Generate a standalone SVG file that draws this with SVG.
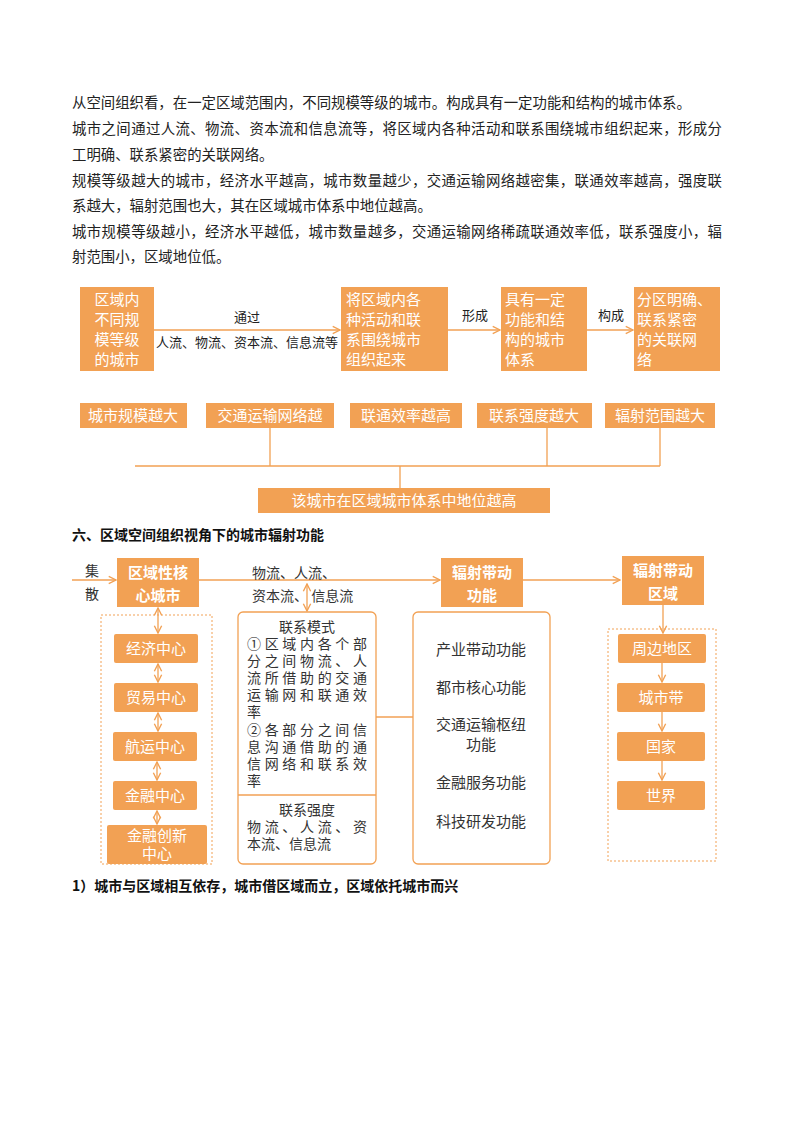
<svg xmlns="http://www.w3.org/2000/svg" width="800" height="1132" viewBox="0 0 800 1132">
<style>
text{font-family:"Noto Sans CJK SC","Noto Sans",sans-serif}
.p{font-size:14.4px;fill:#222}
.b{fill:#F2A154}
.w{fill:#fff;font-size:15px}
.wb{fill:#fff;font-size:15px;font-weight:bold}
.k{fill:#222;font-size:13px}
.k2{fill:#333;font-size:14px}
.m{fill:#333;font-size:15px}
.mm{fill:#333;font-size:14px}
.ln{stroke:#F2A154;stroke-width:1.3;fill:none}
.dash{stroke:#F2A154;stroke-width:1;stroke-dasharray:2,2;fill:none}
.hd{font-size:14px;font-weight:bold;fill:#111}
</style>
<defs>
<marker id="a" viewBox="0 0 10 10" refX="9" refY="5" markerWidth="7" markerHeight="7" orient="auto-start-reverse"><path d="M1,1 L9,5 L1,9" fill="none" stroke="#F2A154" stroke-width="1.5"/></marker>
</defs>
<rect width="800" height="1132" fill="#fff"/>
<g id="para">
<text class="p" x="72" y="108">从空间组织看，在一定区域范围内，不同规模等级的城市。构成具有一定功能和结构的城市体系。</text>
<text class="p" x="72" y="134" textLength="650">城市之间通过人流、物流、资本流和信息流等，将区域内各种活动和联系围绕城市组织起来，形成分</text>
<text class="p" x="72" y="160">工明确、联系紧密的关联网络。</text>
<text class="p" x="72" y="186" textLength="650">规模等级越大的城市，经济水平越高，城市数量越少，交通运输网络越密集，联通效率越高，强度联</text>
<text class="p" x="72" y="211">系越大，辐射范围也大，其在区域城市体系中地位越高。</text>
<text class="p" x="72" y="237" textLength="650">城市规模等级越小，经济水平越低，城市数量越多，交通运输网络稀疏联通效率低，联系强度小，辐</text>
<text class="p" x="72" y="262">射范围小，区域地位低。</text>
</g>
<g id="connectors">
<line class="ln" x1="154" y1="330" x2="340" y2="330" marker-end="url(#a)"/>
<line class="ln" x1="448" y1="330" x2="500" y2="330" marker-end="url(#a)"/>
<line class="ln" x1="587" y1="330" x2="633" y2="330" marker-end="url(#a)"/>
<path class="ln" d="M270,428V466M547,428V466M660,428V466M135,466H660M400,466V488"/>
<line class="ln" x1="72" y1="580" x2="116" y2="580" marker-end="url(#a)"/>
<line class="ln" x1="199" y1="580" x2="440" y2="580" marker-end="url(#a)"/>
<line class="ln" x1="523" y1="580" x2="620" y2="580" marker-end="url(#a)"/>
<line class="ln" x1="307" y1="584" x2="307" y2="611" marker-start="url(#a)" marker-end="url(#a)"/>
<line class="ln" x1="158" y1="608" x2="158" y2="633" marker-start="url(#a)" marker-end="url(#a)"/>
<line class="ln" x1="158" y1="664" x2="158" y2="682" marker-start="url(#a)" marker-end="url(#a)"/>
<line class="ln" x1="158" y1="713" x2="158" y2="731" marker-start="url(#a)" marker-end="url(#a)"/>
<line class="ln" x1="157" y1="762" x2="157" y2="780" marker-start="url(#a)" marker-end="url(#a)"/>
<line class="ln" x1="157" y1="811" x2="157" y2="824" marker-start="url(#a)" marker-end="url(#a)"/>
<line class="ln" x1="376" y1="717" x2="413" y2="717"/>
<line class="ln" x1="663" y1="605" x2="663" y2="633" marker-end="url(#a)"/>
<line class="ln" x1="662" y1="663" x2="662" y2="682" marker-end="url(#a)"/>
<line class="ln" x1="662" y1="712" x2="662" y2="731" marker-end="url(#a)"/>
<line class="ln" x1="662" y1="761" x2="662" y2="780" marker-end="url(#a)"/>
</g>
<g id="labels">
<text class="k" x="247" y="322" text-anchor="middle">通过</text>
<text class="k" x="247" y="347" text-anchor="middle" font-size="12">人流、物流、资本流、信息流等</text>
<text class="k" x="475" y="320" text-anchor="middle">形成</text>
<text class="k" x="611" y="320" text-anchor="middle">构成</text>
<text class="k2" x="92" y="576" text-anchor="middle">集</text>
<text class="k2" x="92" y="599" text-anchor="middle">散</text>
<text class="k2" x="252" y="578">物流、人流、</text>
<text class="k2" x="252" y="601">资本流、 信息流</text>
</g>
<g id="n1"><rect class="b" x="80" y="287" width="74" height="84"/>
<text class="w" x="117" y="305" text-anchor="middle">区域内</text><text class="w" x="117" y="325" text-anchor="middle">不同规</text><text class="w" x="117" y="345" text-anchor="middle">模等级</text><text class="w" x="117" y="365" text-anchor="middle">的城市</text></g>
<g id="n2"><rect class="b" x="341" y="287" width="107" height="84"/>
<text class="w" x="346" y="305">将区域内各</text><text class="w" x="346" y="325">种活动和联</text><text class="w" x="346" y="345">系围绕城市</text><text class="w" x="346" y="365">组织起来</text></g>
<g id="n3"><rect class="b" x="501" y="287" width="86" height="84"/>
<text class="w" x="505" y="305">具有一定</text><text class="w" x="505" y="325">功能和结</text><text class="w" x="505" y="345">构的城市</text><text class="w" x="505" y="365">体系</text></g>
<g id="n4"><rect class="b" x="634" y="287" width="86" height="84"/>
<text class="w" x="637" y="305">分区明确、</text><text class="w" x="637" y="325">联系紧密</text><text class="w" x="637" y="345">的关联网</text><text class="w" x="637" y="365">络</text></g>
<g id="r1"><rect class="b" x="80" y="403" width="107" height="25"/><text class="w" x="133" y="421" text-anchor="middle" font-size="16">城市规模越大</text></g>
<g id="r2"><rect class="b" x="206" y="403" width="128" height="25"/><text class="w" x="270" y="421" text-anchor="middle" font-size="16">交通运输网络越</text></g>
<g id="r3"><rect class="b" x="350" y="403" width="112" height="25"/><text class="w" x="406" y="421" text-anchor="middle" font-size="16">联通效率越高</text></g>
<g id="r4"><rect class="b" x="477" y="403" width="115" height="25"/><text class="w" x="534" y="421" text-anchor="middle" font-size="16">联系强度越大</text></g>
<g id="r5"><rect class="b" x="605" y="403" width="110" height="25"/><text class="w" x="660" y="421" text-anchor="middle" font-size="16">辐射范围越大</text></g>
<g id="r6"><rect class="b" x="258" y="488" width="292" height="25"/><text class="w" x="404" y="506" text-anchor="middle" font-size="17">该城市在区域城市体系中地位越高</text></g>
<text class="hd" x="72" y="540">六、区域空间组织视角下的城市辐射功能</text>
<g id="core"><rect class="b" x="117" y="558" width="82" height="49"/><rect class="dash" x="117.5" y="558.5" width="81" height="48" stroke="#e08a30"/>
<text class="wb" x="158" y="578" text-anchor="middle">区域性核</text><text class="wb" x="158" y="601" text-anchor="middle">心城市</text></g>
<g id="func"><rect class="b" x="441" y="558" width="82" height="49"/>
<text class="wb" x="482" y="578" text-anchor="middle">辐射带动</text><text class="wb" x="482" y="601" text-anchor="middle">功能</text></g>
<g id="reg"><rect class="b" x="622" y="556" width="82" height="49"/>
<text class="wb" x="663" y="576" text-anchor="middle">辐射带动</text><text class="wb" x="663" y="599" text-anchor="middle">区域</text></g>
<g id="leftbox"><rect class="dash" x="101" y="615" width="111" height="249"/></g>
<g id="c1"><rect class="b" x="114" y="634" width="84" height="29" rx="2"/><text class="w" x="156" y="654" text-anchor="middle" font-size="16">经济中心</text></g>
<g id="c2"><rect class="b" x="114" y="683" width="84" height="29" rx="2"/><text class="w" x="156" y="703" text-anchor="middle" font-size="16">贸易中心</text></g>
<g id="c3"><rect class="b" x="113" y="732" width="84" height="29" rx="2"/><text class="w" x="155" y="752" text-anchor="middle" font-size="16">航运中心</text></g>
<g id="c4"><rect class="b" x="113" y="781" width="84" height="29" rx="2"/><text class="w" x="155" y="801" text-anchor="middle" font-size="16">金融中心</text></g>
<g id="c5"><rect class="b" x="107" y="825" width="100" height="39" rx="2"/><text class="w" x="157" y="841" text-anchor="middle">金融创新</text><text class="w" x="157" y="859" text-anchor="middle">中心</text></g>
<g id="mode"><rect class="ln" x="238" y="612" width="138" height="252" rx="5"/><line class="ln" x1="238" y1="795" x2="376" y2="795"/>
<text class="mm" x="307" y="632" text-anchor="middle">联系模式</text>
<text class="mm" x="247" y="649" textLength="120">①区域内各个部</text><text class="mm" x="247" y="666" textLength="120">分之间物流、人</text><text class="mm" x="247" y="683" textLength="120">流所借助的交通</text><text class="mm" x="247" y="700" textLength="120">运输网和联通效</text><text class="mm" x="247" y="717">率</text>
<text class="mm" x="247" y="735" textLength="120">②各部分之间信</text><text class="mm" x="247" y="752" textLength="120">息沟通借助的通</text><text class="mm" x="247" y="769" textLength="120">信网络和联系效</text><text class="mm" x="247" y="786">率</text>
<text class="mm" x="307" y="815" text-anchor="middle">联系强度</text>
<text class="mm" x="247" y="832" textLength="120">物流、人流、资</text><text class="mm" x="247" y="849">本流、信息流</text>
</g>
<g id="funcs"><rect class="ln" x="413" y="612" width="137" height="252" rx="5"/>
<text class="m" x="481" y="655" text-anchor="middle" font-size="16">产业带动功能</text>
<text class="m" x="481" y="693" text-anchor="middle" font-size="16">都市核心功能</text>
<text class="m" x="481" y="730" text-anchor="middle" font-size="16">交通运输枢纽</text>
<text class="m" x="481" y="750" text-anchor="middle" font-size="16">功能</text>
<text class="m" x="481" y="788" text-anchor="middle" font-size="16">金融服务功能</text>
<text class="m" x="481" y="827" text-anchor="middle" font-size="16">科技研发功能</text></g>
<g id="rightbox"><rect class="dash" x="608" y="629" width="108" height="232"/></g>
<g id="d1"><rect class="b" x="618" y="634" width="88" height="29" rx="2"/><text class="w" x="662" y="654" text-anchor="middle" font-size="16">周边地区</text></g>
<g id="d2"><rect class="b" x="617" y="683" width="88" height="29" rx="2"/><text class="w" x="661" y="703" text-anchor="middle" font-size="16">城市带</text></g>
<g id="d3"><rect class="b" x="617" y="732" width="88" height="29" rx="2"/><text class="w" x="661" y="752" text-anchor="middle" font-size="16">国家</text></g>
<g id="d4"><rect class="b" x="617" y="781" width="88" height="29" rx="2"/><text class="w" x="661" y="801" text-anchor="middle" font-size="16">世界</text></g>
<text class="hd" x="72" y="891">1）城市与区域相互依存，城市借区域而立，区域依托城市而兴</text>
</svg>
